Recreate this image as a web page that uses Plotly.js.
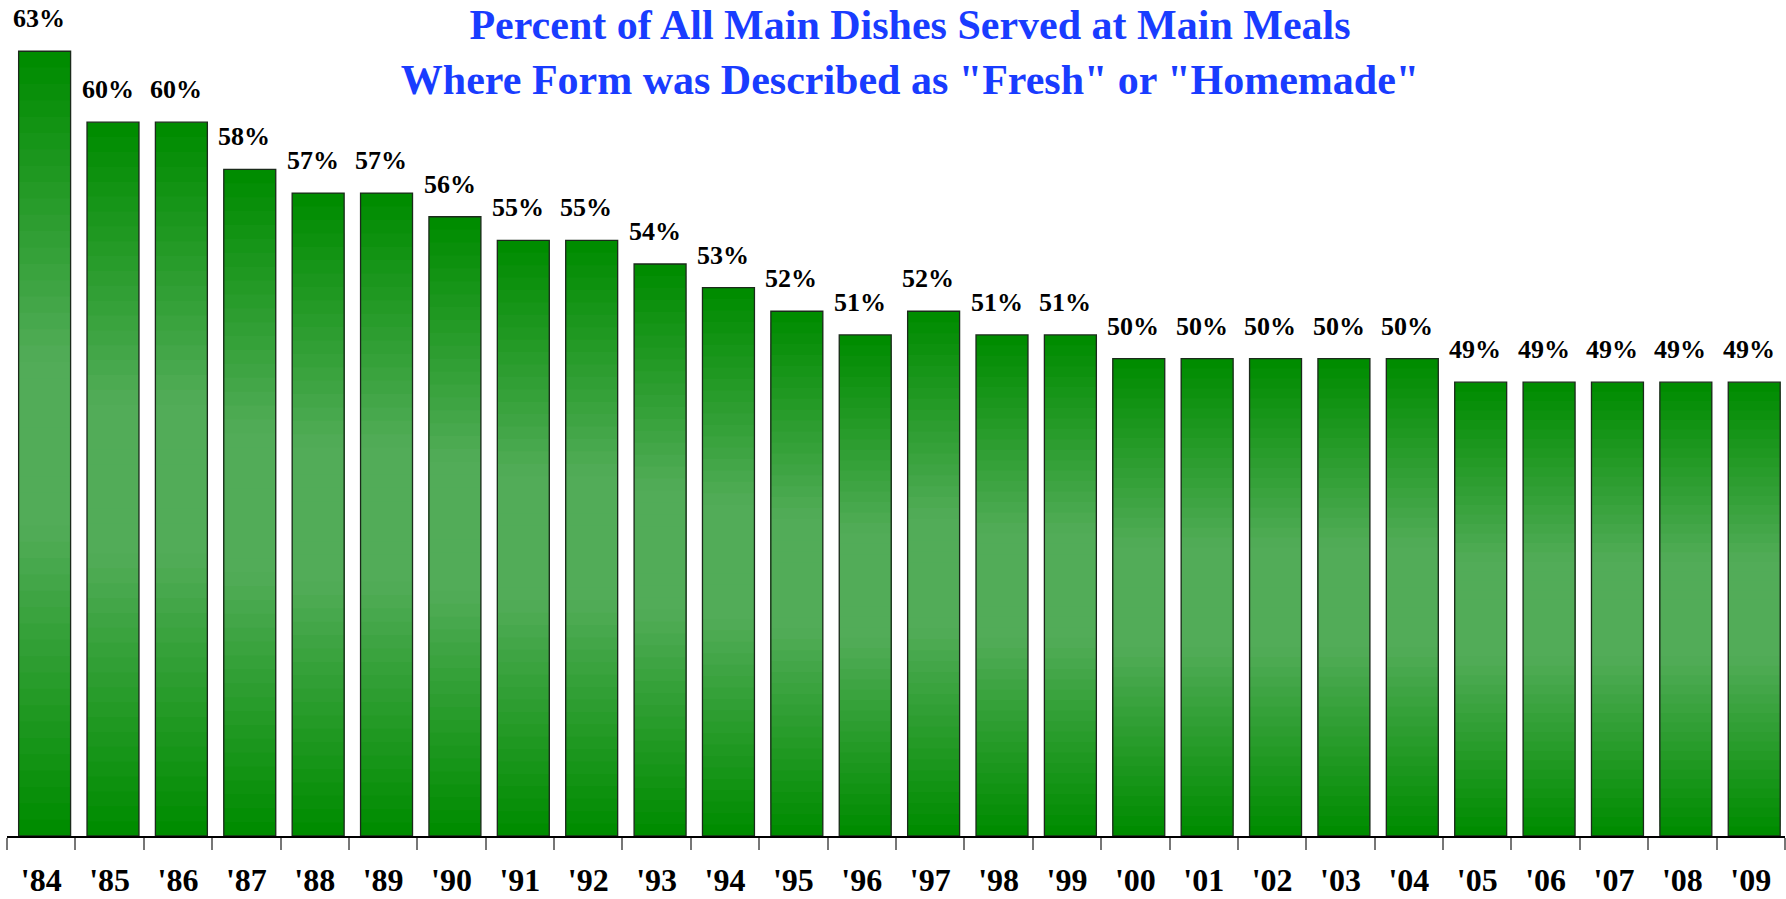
<!DOCTYPE html>
<html>
<head>
<meta charset="utf-8">
<script src="https://cdn.plot.ly/plotly-3.0.1.min.js"></script>
<style>html,body{margin:0;padding:0;background:#fff;}#chart{width:1786px;height:899px;}</style>
</head>
<body>
<div id="chart"></div>
<script>
var years = ["'84","'85","'86","'87","'88","'89","'90","'91","'92","'93","'94","'95","'96","'97","'98","'99","'00","'01","'02","'03","'04","'05","'06","'07","'08","'09"];
var percents = [63,60,60,58,57,57,56,55,55,54,53,52,51,52,51,51,50,50,50,50,50,49,49,49,49,49];

var yMin = 29.8, yMax = 65;
var dark = [0,140,0], light = [82,172,88];
var N = 24;
var barW = 0.76, barOff = -0.33;
var traces = [];
for (var i = 0; i < N; i++) {
  var f = Math.min(1, (i / (N - 1)) / 0.8);
  var c = dark.map(function (d, k) { return Math.round(d + (light[k] - d) * f); });
  var lo = i / (2 * N), hi = 1 - i / (2 * N);
  traces.push({
    type: 'bar', x: years, width: barW, offset: barOff,
    base: percents.map(function (v) { return yMin + (v - yMin) * lo; }),
    y: percents.map(function (v) { return (v - yMin) * (hi - lo); }),
    marker: {color: 'rgb(' + c.join(',') + ')', line: {width: 0}},
    hoverinfo: 'skip'
  });
}
traces.push({
  type: 'bar', x: years, width: barW, offset: barOff,
  base: percents.map(function () { return yMin; }),
  y: percents.map(function (v) { return v - yMin; }),
  marker: {color: 'rgba(0,0,0,0)', line: {color: '#1b2a1b', width: 1.3}},
  hovertemplate: '%{x}: %{customdata}%<extra></extra>',
  customdata: percents
});

var annotations = years.map(function (yr, i) {
  return {
    x: yr, y: percents[i], xref: 'x', yref: 'y',
    text: percents[i] + '%', showarrow: false,
    yanchor: 'bottom', xanchor: 'center', yshift: 16, xshift: -2,
    font: {family: 'Liberation Serif, Times New Roman, serif', size: 26, color: '#000', weight: 700}
  };
});

var layout = {
  width: 1786, height: 899,
  margin: {l: 7, r: 1, t: 4, b: 63},
  paper_bgcolor: '#fff', plot_bgcolor: '#fff',
  barmode: 'overlay',
  showlegend: false,
  title: {
    text: 'Percent of All Main Dishes Served at Main Meals<br>Where Form was Described as "Fresh" or "Homemade"',
    font: {family: 'Liberation Serif, Times New Roman, serif', size: 42, color: 'rgb(25,60,255)', weight: 700},
    x: 910 / 1786, xanchor: 'center', xref: 'container',
    y: 1 - 39 / 899, yanchor: 'bottom', yref: 'container'
  },
  xaxis: {
    type: 'category', range: [-0.5, 25.5], fixedrange: true,
    showline: true, linecolor: '#000', linewidth: 1.5,
    ticks: 'outside', tickson: 'boundaries', ticklen: 12, tickwidth: 1.5, tickcolor: '#777',
    ticklabelstandoff: 15,
    tickfont: {family: 'Liberation Serif, Times New Roman, serif', size: 32, color: '#000', weight: 700},
    showgrid: false, zeroline: false
  },
  yaxis: {visible: false, range: [yMin, yMax], fixedrange: true, showgrid: false, zeroline: false},
  annotations: annotations
};

Plotly.newPlot('chart', traces, layout, {displayModeBar: false});
</script>
</body>
</html>
